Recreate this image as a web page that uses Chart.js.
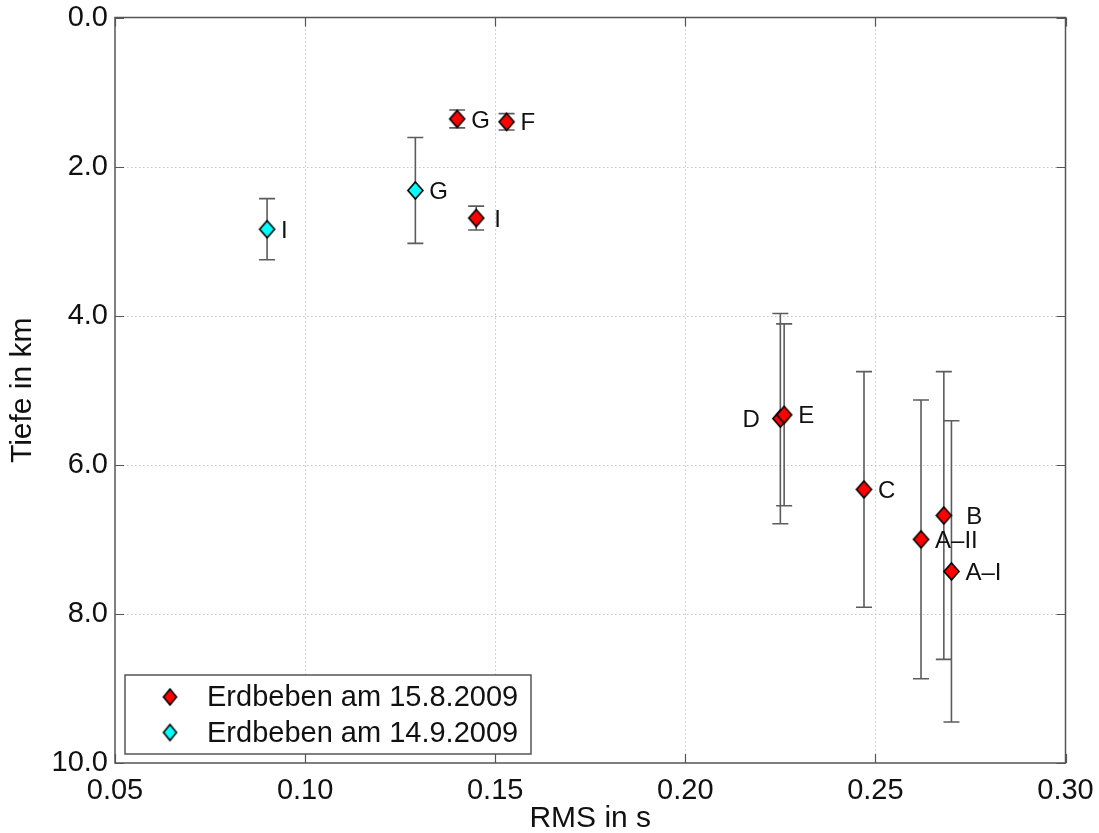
<!DOCTYPE html>
<html>
<head>
<meta charset="utf-8">
<script src="https://cdn.jsdelivr.net/npm/chart.js@4"></script>
<style>
  html, body { margin: 0; padding: 0; background: #fff; }
  #wrap { width: 1099px; height: 833px; position: relative; }
</style>
</head>
<body>
<div id="wrap"><canvas id="c"></canvas></div>
<script>
// Earthquake of 15.8.2009: event names, RMS (s), depth (km), depth uncertainty (± km)
const augNames = ['G', 'F', 'I', 'D', 'E', 'C', 'B', 'A–II', 'A–I'];
const augRms   = [0.140, 0.153, 0.145, 0.225, 0.226, 0.247, 0.268, 0.262, 0.270];
const augDepth = [1.36, 1.40, 2.69, 5.38, 5.33, 6.33, 6.68, 7.00, 7.43];
const augErr   = [0.12, 0.11, 0.16, 1.41, 1.22, 1.58, 1.93, 1.87, 2.02];

// Earthquake of 14.9.2009
const sepNames = ['G', 'I'];
const sepRms   = [0.129, 0.090];
const sepDepth = [2.32, 2.84];
const sepErr   = [0.71, 0.41];

const seriesNames = ['Erdbeben am 15.8.2009', 'Erdbeben am 14.9.2009'];
const xTicks = [0.05, 0.10, 0.15, 0.20, 0.25, 0.30];
const yTicks = [0, 2, 4, 6, 8, 10];

const FONT = "'Liberation Sans', Arial, Helvetica, sans-serif";
Chart.defaults.font.family = FONT;

const AXIS_COLOR = '#555555';
const GRID_COLOR = '#c4c4c4';
const TEXT_COLOR = '#111111';
const ERR_COLOR = '#5c5c5c';

// Diamond marker rendered to a small canvas, used as point style
function diamond(fill, w, h) {
  const c = document.createElement('canvas');
  c.width = w + 4; c.height = h + 4;
  const g = c.getContext('2d');
  const cx = c.width / 2, cy = c.height / 2;
  g.beginPath();
  g.moveTo(cx, cy - h / 2);
  g.lineTo(cx + w / 2, cy);
  g.lineTo(cx, cy + h / 2);
  g.lineTo(cx - w / 2, cy);
  g.closePath();
  g.fillStyle = fill;
  g.fill();
  g.lineWidth = 1.6;
  g.strokeStyle = '#000';
  g.lineJoin = 'miter';
  g.stroke();
  return c;
}

const redMark = diamond('#ff0000', 15, 17);
const cyanMark = diamond('#00ffff', 15, 17);
const redLegend = diamond('#ff0000', 13, 16);
const cyanLegend = diamond('#00ffff', 13, 16);

function toPoints(xs, ys) { return xs.map((x, i) => ({ x: x, y: ys[i] })); }

// label placement tweaks (pixels, from the marker centre), keyed "dataset:label"
const LABEL_DX = 14, LABEL_DY = 2;
const labelShift = {
  '0:B': { dx: 22.5 },
  '0:I': { dx: 18 },
  '0:D': { dx: -20.5, align: 'right' }
};

// grid, error bars
const backdropPlugin = {
  id: 'backdrop',
  beforeDatasetsDraw(chart) {
    const { ctx, chartArea: a, scales: { x, y } } = chart;
    ctx.save();
    ctx.strokeStyle = GRID_COLOR;
    ctx.lineWidth = 1;
    ctx.setLineDash([1.5, 2.5]);
    xTicks.slice(1, -1).forEach(v => {
      const px = Math.round(x.getPixelForValue(v)) + 0.5;
      ctx.beginPath(); ctx.moveTo(px, a.top); ctx.lineTo(px, a.bottom); ctx.stroke();
    });
    yTicks.slice(1, -1).forEach(v => {
      const py = Math.round(y.getPixelForValue(v)) + 0.5;
      ctx.beginPath(); ctx.moveTo(a.left, py); ctx.lineTo(a.right, py); ctx.stroke();
    });
    ctx.setLineDash([]);

    // error bars
    ctx.strokeStyle = ERR_COLOR;
    ctx.lineWidth = 1.6;
    chart.data.datasets.forEach(ds => {
      ds.data.forEach((p, i) => {
        const e = ds.errors[i];
        const px = x.getPixelForValue(p.x);
        const y0 = y.getPixelForValue(p.y - e);
        const y1 = y.getPixelForValue(p.y + e);
        const cap = 8;
        ctx.beginPath();
        ctx.moveTo(px, y0); ctx.lineTo(px, y1);
        ctx.moveTo(px - cap, y0); ctx.lineTo(px + cap, y0);
        ctx.moveTo(px - cap, y1); ctx.lineTo(px + cap, y1);
        ctx.stroke();
      });
    });
    ctx.restore();
  }
};

// axis box, inward ticks, point labels, legend
const overlayPlugin = {
  id: 'overlay',
  afterDatasetsDraw(chart) {
    const { ctx, chartArea: a, scales: { x, y } } = chart;
    ctx.save();

    // point labels
    ctx.fillStyle = TEXT_COLOR;
    ctx.font = '24px ' + FONT;
    ctx.textBaseline = 'middle';
    chart.data.datasets.forEach((ds, di) => {
      ds.data.forEach((p, i) => {
        const name = ds.names[i];
        const s = labelShift[di + ':' + name] || {};
        const dx = s.dx !== undefined ? s.dx : LABEL_DX;
        ctx.textAlign = s.align || 'left';
        ctx.fillText(name, x.getPixelForValue(p.x) + dx, y.getPixelForValue(p.y) + LABEL_DY);
      });
    });

    // frame
    ctx.strokeStyle = AXIS_COLOR;
    ctx.lineWidth = 1.5;
    ctx.strokeRect(a.left, a.top, a.right - a.left, a.bottom - a.top);

    // inward tick marks on all four sides
    const tl = 9;
    ctx.beginPath();
    xTicks.forEach(v => {
      const px = Math.round(x.getPixelForValue(v)) + 0.5;
      ctx.moveTo(px, a.bottom); ctx.lineTo(px, a.bottom - tl);
      ctx.moveTo(px, a.top); ctx.lineTo(px, a.top + tl);
    });
    yTicks.forEach(v => {
      const py = Math.round(y.getPixelForValue(v)) + 0.5;
      ctx.moveTo(a.left, py); ctx.lineTo(a.left + tl, py);
      ctx.moveTo(a.right, py); ctx.lineTo(a.right - tl, py);
    });
    ctx.lineWidth = 1.2;
    ctx.stroke();

    // legend
    const lx = 125, ly = 675, lw = 406, lh = 79;
    ctx.fillStyle = '#ffffff';
    ctx.fillRect(lx, ly, lw, lh);
    ctx.strokeStyle = AXIS_COLOR;
    ctx.lineWidth = 1.5;
    ctx.strokeRect(lx, ly, lw, lh);
    const rows = [697, 732.5];
    const legendMarks = [redLegend, cyanLegend];
    ctx.font = '29px ' + FONT;
    ctx.textAlign = 'left';
    ctx.textBaseline = 'middle';
    ctx.fillStyle = TEXT_COLOR;
    chart.data.datasets.forEach((ds, i) => {
      const m = legendMarks[i];
      ctx.drawImage(m, 170 - m.width / 2, rows[i] - m.height / 2);
      ctx.fillText(ds.label, 207, rows[i] + 1);
    });
    ctx.restore();
  }
};

new Chart(document.getElementById('c'), {
  type: 'scatter',
  data: {
    datasets: [
      {
        label: seriesNames[0],
        data: toPoints(augRms, augDepth),
        errors: augErr,
        names: augNames,
        pointStyle: redMark,
        pointRadius: 8,
        backgroundColor: '#ff0000',
        borderColor: '#000'
      },
      {
        label: seriesNames[1],
        data: toPoints(sepRms, sepDepth),
        errors: sepErr,
        names: sepNames,
        pointStyle: cyanMark,
        pointRadius: 8,
        backgroundColor: '#00ffff',
        borderColor: '#000'
      }
    ]
  },
  options: {
    responsive: true,
    maintainAspectRatio: false,
    animation: false,
    devicePixelRatio: 1,
    layout: { padding: { top: 17.5, right: 33.5, left: 0, bottom: 0 } },
    plugins: { legend: { display: false }, tooltip: { enabled: false } },
    scales: {
      x: {
        type: 'linear',
        min: 0.05,
        max: 0.30,
        afterBuildTicks: s => { s.ticks = xTicks.map(v => ({ value: v })); },
        afterFit: s => { s.height = 70; s.paddingLeft = 0; s.paddingRight = 0; },
        grid: { display: false, drawTicks: false },
        border: { display: false },
        ticks: {
          padding: 11,
          color: TEXT_COLOR,
          font: { size: 29 },
          maxRotation: 0,
          autoSkip: false,
          callback: v => Number(v).toFixed(2)
        },
        title: {
          display: true,
          text: 'RMS in s',
          color: TEXT_COLOR,
          font: { size: 30, lineHeight: 1 },
          padding: { top: 0, bottom: -1 }
        }
      },
      y: {
        type: 'linear',
        reverse: true,
        min: 0,
        max: 10,
        afterBuildTicks: s => { s.ticks = yTicks.map(v => ({ value: v })); },
        afterFit: s => { s.width = 115; s.paddingTop = 0; s.paddingBottom = 0; },
        grid: { display: false, drawTicks: false },
        border: { display: false },
        ticks: {
          padding: 7,
          color: TEXT_COLOR,
          font: { size: 29 },
          autoSkip: false,
          callback: v => Number(v).toFixed(1)
        },
        title: {
          display: true,
          text: 'Tiefe in km',
          color: TEXT_COLOR,
          font: { size: 30, lineHeight: 1 },
          padding: { top: 8, bottom: 0 }
        }
      }
    }
  },
  plugins: [backdropPlugin, overlayPlugin]
});
</script>
</body>
</html>
